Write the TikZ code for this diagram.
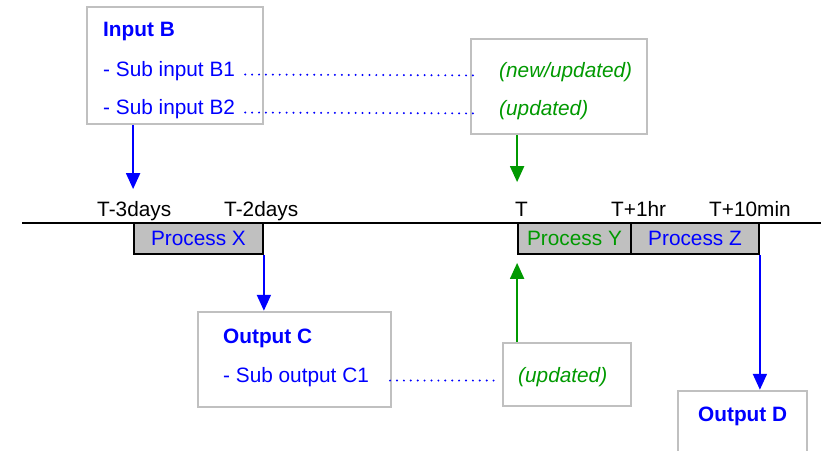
\documentclass[tikz,border=0pt]{standalone}
\usepackage{fontspec}
\setmainfont{Liberation Sans}
\usetikzlibrary{arrows.meta, positioning, calc}
\definecolor{myblue}{RGB}{0,0,255}
\definecolor{mygreen}{RGB}{0,153,0}
\definecolor{mygray}{RGB}{192,192,192}
\tikzset{
  infobox/.style={
    draw=mygray, line width=2.5pt, rectangle, inner sep=0pt
  },
  procbox/.style={
    draw=black, line width=1.8pt, fill=mygray, rectangle, inner sep=0pt,
    minimum height=31pt
  },
  txt/.style={
    inner sep=0pt, anchor=base west
  },
  arrow/.style={
    -{Triangle[length=16pt,width=14pt]}, line width=2pt
  },
  leader/.style={
    myblue, line width=2.2pt, line cap=round, dash pattern=on 0pt off 6.9pt
  }
}

\begin{document}
\begin{tikzpicture}[x=1pt, y=-1pt, font=\fontsize{20.8}{25}\selectfont]
        \clip (0,0) rectangle (821,450);
        % boxes
        \node[infobox, minimum width=176pt, minimum height=117pt] (inB) at (175,65.5) {};
        \node[infobox, minimum width=176pt, minimum height=95pt] (updB) at (559,86.5) {};
        \node[infobox, minimum width=193pt, minimum height=95pt] (outC) at (294.5,359.5) {};
        \node[infobox, minimum width=128pt, minimum height=63pt] (updC) at (567,374.5) {};
        \node[infobox, minimum width=129pt, minimum height=80pt] (outD) at (742.5,431) {};

        % time line
        \draw[line width=2pt] (22,222.7) -- (821,222.7);
        \node[procbox, minimum width=129pt, text=myblue] (procX) at (198.5,238.5) {Process X};
        \node[procbox, minimum width=113pt, text=mygreen] (procY) at (574.5,238.5) {Process Y};
        \node[procbox, minimum width=128pt, text=myblue] (procZ) at (695,238.5) {Process Z};
        \node[txt] (t3) at (97,216) {T-3days};
        \node[txt] (t2) at (224,216) {T-2days};
        \node[txt] (t0) at (515,216) {T};
        \node[txt] (t1hr) at (611,216) {T+1hr};
        \node[txt] (t10min) at (709,216) {T+10min};

        % texts
        \node[txt, text=myblue, font=\fontsize{20.8}{25}\selectfont\bfseries] (inBtitle) at (103,36) {Input B};
        \node[txt, text=myblue] (subB1) at (103,76) {- Sub input B1};
        \node[txt, text=myblue] (subB2) at (103,114) {- Sub input B2};
        \node[txt, text=mygreen, font=\fontsize{20.8}{25}\selectfont\itshape] (newB1) at (499,77) {(new/updated)};
        \node[txt, text=mygreen, font=\fontsize{20.8}{25}\selectfont\itshape] (newB2) at (499,115) {(updated)};
        \node[txt, text=myblue, font=\fontsize{20.8}{25}\selectfont\bfseries] (outCtitle) at (223,343) {Output C};
        \node[txt, text=myblue] (subC1) at (223,382) {- Sub output C1};
        \node[txt, text=mygreen, font=\fontsize{20.8}{25}\selectfont\itshape] (newC1) at (518,382) {(updated)};
        \node[txt, text=myblue, font=\fontsize{20.8}{25}\selectfont\bfseries] (outDtitle) at (698,421) {Output D};

        % dotted leaders
        \draw[leader, shorten <=10pt, shorten >=21pt] ([yshift=1.5pt]subB1.base east) -- ([yshift=1.5pt]newB1.base west);
        \draw[leader, shorten <=10pt, shorten >=21pt] ([yshift=1.5pt]subB2.base east) -- ([yshift=1.5pt]newB2.base west);
        \draw[leader, shorten <=21pt, shorten >=21pt] ([yshift=1.5pt]subC1.base east) -- ([yshift=1.5pt]newC1.base west);

        % arrows
        \draw[arrow, myblue, shorten >=33pt] (inB.south -| procX.west) -- (procX.north west);
        \draw[arrow, mygreen, shorten >=40pt] (updB.south -| procY.west) -- (procY.north west);
        \draw[arrow, myblue] (procX.south east) -- (procX.south east |- outC.north);
        \draw[arrow, mygreen, shorten >=8pt] (updC.north -| procY.west) -- (procY.south west);
        \draw[arrow, myblue] (procZ.south east) -- (procZ.south east |- outD.north);
      \end{tikzpicture}
\end{document}
